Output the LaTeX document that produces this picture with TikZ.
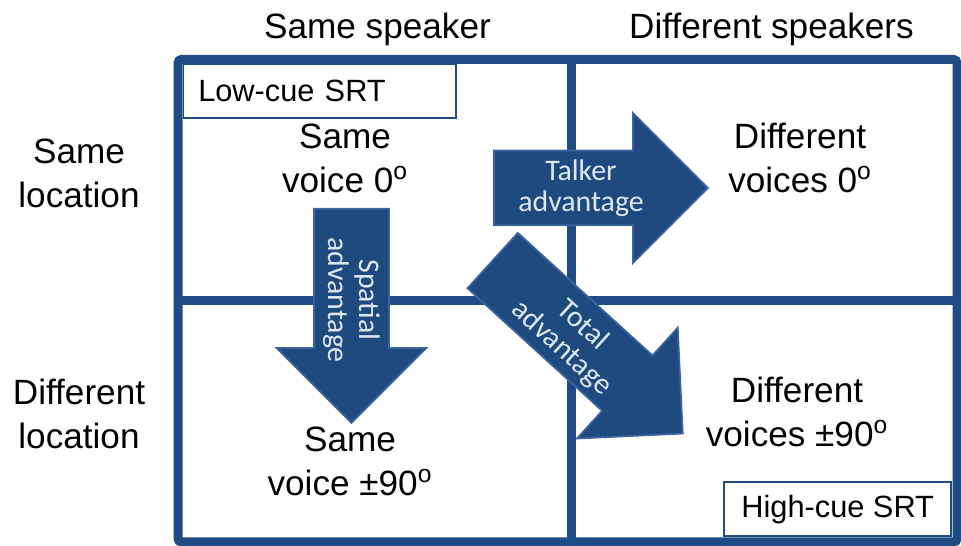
\documentclass[tikz,border=0pt]{standalone}
\usepackage{fontspec}
\setmainfont{Liberation Sans}
\newfontfamily\arrowfont{Carlito}
\usepackage{xcolor}
\usepackage{tikz}
\usetikzlibrary{shapes.arrows,positioning}

\definecolor{gridblue}{HTML}{1F4C84}
\definecolor{arrowblue}{HTML}{1F4A80}
\definecolor{arrowedge}{HTML}{3A64A0}
\definecolor{arrowtext}{HTML}{DDE8F5}

\begin{document}
\begin{tikzpicture}[
    grid/.style={draw=gridblue, line width=0.18cm},
    label/.style={align=center, font=\fontsize{20}{25}\selectfont},
    cell/.style={align=center, font=\fontsize{20}{25}\selectfont},
    srtbox/.style={draw=gridblue, fill=white, line width=0.9pt, minimum height=1.08cm, font=\fontsize{17.5}{20}\selectfont},
    bigarrow/.style={single arrow, draw=arrowedge, fill=arrowblue, line width=1pt,
        inner xsep=0pt, inner ysep=0.73cm, minimum height=4.28cm, minimum width=2.95cm,
        single arrow head extend=0.75cm, anchor=tail},
    arrowlabel/.style={align=center, text=arrowtext, font=\arrowfont\fontsize{17}{17.5}\selectfont}
]
    \useasboundingbox (0,0) rectangle (19.22,10.92);

    % frame and the two dividing lines
    \coordinate (sw) at (3.56,0.08);
    \coordinate (ne) at (19.14,9.73);
    \draw[grid, rounded corners=2pt] (sw) rectangle (ne);
    \draw[grid] (11.42,0.08) -- (11.42,9.73);
    \draw[grid] (3.56,4.90) -- (19.14,4.90);

    % headings
    \node[label] (hsame) at (7.55,10.34) {Same speaker};
    \node[label] (hdiff) at (15.43,10.34) {Different speakers};
    \node[label] (lsame) at (1.58,7.45) {Same\\location};
    \node[label] (ldiff) at (1.58,2.64) {Different\\location};

    % the four conditions
    \node[cell] (sv0) at (6.90,7.75) {Same\\voice 0\textsuperscript{o}};
    \node[cell] (dv0) at (16.00,7.76) {Different\\voices 0\textsuperscript{o}};
    \node[cell] (sv90) at (7.00,1.69) {Same\\voice ±90\textsuperscript{o}};
    \node[cell] (dv90) at (15.94,2.68) {Different\\voices ±90\textsuperscript{o}};

    \node[srtbox, anchor=north west, inner xsep=0.3cm, text width=4.85cm, align=left] (lowcue) at (3.65,9.65) {Low-cue SRT};
    \node[srtbox, anchor=south east, minimum width=4.54cm] (highcue) at (19.04,0.18) {High-cue SRT};

    % advantage arrows
    \node[bigarrow] (talker) at (9.86,7.16) {};
    \node[bigarrow, rotate=-90] (spatial) at (7.03,6.76) {};
    \node[bigarrow, rotate=-42.3, minimum height=5.14cm] (total) at (9.84,5.72) {};

    \node[arrowlabel] (talkertxt) at (11.62,7.16) {Talker\\advantage};
    \node[arrowlabel, rotate=-90] (spatialtxt) at (7.04,4.92) {Spatial\\advantage};
    \node[arrowlabel, rotate=-42.3] (totaltxt) at (11.44,4.18) {Total\\advantage};
\end{tikzpicture}
\end{document}
